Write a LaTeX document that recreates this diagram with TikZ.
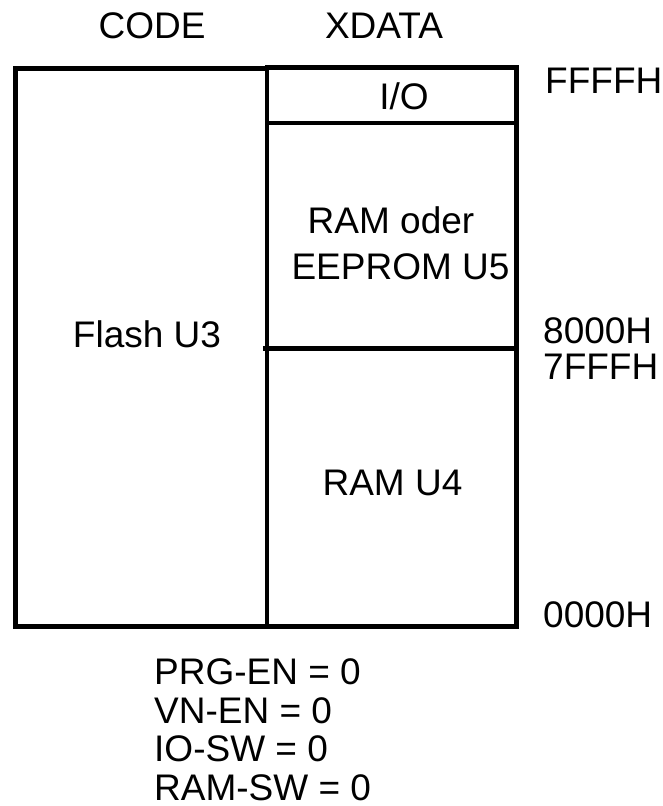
\documentclass[tikz,border=0pt]{standalone}
\usepackage{fontspec}
\setmainfont{Liberation Sans}
\begin{document}
\begin{tikzpicture}[x=1pt,y=-1pt,
  frame/.style={draw=black,line width=4.5pt},
  lbl/.style={inner sep=0pt,font=\fontsize{37}{42}\selectfont}]
\useasboundingbox (0,0) rectangle (663,806);
% boxes
\draw[frame] (15.5,68.5) rectangle (267,626.5);
\draw[frame] (267,67.5) rectangle (516.5,626.5);
\coordinate (ioL) at (267,123);
\coordinate (ioR) at (516.5,123);
\coordinate (midL) at (263,348.5);
\coordinate (midR) at (516.5,348.5);
\draw[frame] (ioL) -- (ioR);
\draw[frame] (midL) -- (midR);
% headers
\node[lbl,anchor=base] (code) at (152,38) {CODE};
\node[lbl,anchor=base] (xdata) at (384,38) {XDATA};
% contents
\node[lbl,anchor=base] (io) at (404,109) {I/O};
\node[lbl,anchor=base] (ram1) at (391,233) {RAM oder};
\node[lbl,anchor=base] (eep) at (400.5,279) {EEPROM U5};
\node[lbl,anchor=base] (flash) at (147,347) {Flash U3};
\node[lbl,anchor=base] (ramu4) at (392.5,495) {RAM U4};
% addresses
\node[lbl,anchor=base west] (a1) at (545,93) {FFFFH};
\node[lbl,anchor=base west] (a2) at (543,343) {8000H};
\node[lbl,anchor=base west] (a3) at (543,379) {7FFFH};
\node[lbl,anchor=base west] (a4) at (543,627) {0000H};
% switches
\node[lbl,anchor=base west] (s1) at (154,684) {PRG-EN = 0};
\node[lbl,anchor=base west] (s2) at (154,723) {VN-EN = 0};
\node[lbl,anchor=base west] (s3) at (154,761) {IO-SW = 0};
\node[lbl,anchor=base west] (s4) at (154,800) {RAM-SW = 0};
\end{tikzpicture}
\end{document}
